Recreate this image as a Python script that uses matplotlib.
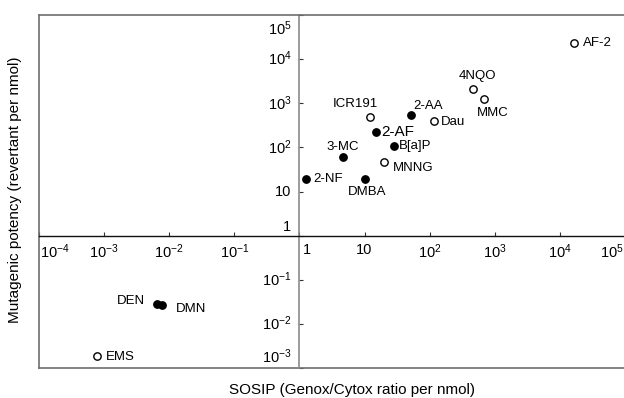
import matplotlib
matplotlib.use("Agg")
import matplotlib.pyplot as plt
from matplotlib.ticker import NullFormatter

plt.rcParams['font.family'] = ['Liberation Sans', 'DejaVu Sans']
plt.rcParams['mathtext.fontset'] = 'custom'
plt.rcParams['mathtext.rm'] = 'Liberation Sans'
plt.rcParams['mathtext.it'] = 'Liberation Sans'

# ---- data ----
names = ['2-NF', '3-MC', 'DMBA', 'ICR191', '2-AF', 'B[a]P', 'MNNG', '2-AA', 'Dau',
         '4NQO', 'MMC', 'AF-2', 'DEN', 'DMN', 'EMS']
sosip = [1.25, 4.6, 10, 12, 14.8, 28, 20, 51, 115, 460, 680, 16500, 0.0066, 0.0078, 0.00078]
potency = [19, 59, 19, 500, 219, 105, 46, 535, 390, 2100, 1240, 23000, 0.028, 0.027, 0.0019]
filled = [True, True, True, False, True, True, False, True, False,
          False, False, False, True, True, False]
# label offsets in pixels (dx, dy) and alignment
lab_off = [(8, 0, 'left'), (0, 10, 'center'), (3, -13, 'center'), (-14, 13, 'center'),
           (6, 0, 'left'), (5, 0, 'left'), (9, -6, 'left'), (3, 9, 'left'), (7, -1, 'left'),
           (5, 13, 'center'), (9, -14, 'center'), (9, 0, 'left'), (-12, 3, 'right'),
           (14, -4, 'left'), (9, -1, 'left')]

xticks = [1e-4, 1e-3, 1e-2, 1e-1, 1, 10, 1e2, 1e3, 1e4, 1e5]
xticklabels = ['10$^{-4}$', '10$^{-3}$', '10$^{-2}$', '10$^{-1}$', '1', '10',
               '10$^{2}$', '10$^{3}$', '10$^{4}$', '10$^{5}$']
yticks = [1e-3, 1e-2, 1e-1, 1, 10, 1e2, 1e3, 1e4, 1e5]
yticklabels = ['10$^{-3}$', '10$^{-2}$', '10$^{-1}$', '1', '10',
               '10$^{2}$', '10$^{3}$', '10$^{4}$', '10$^{5}$']

fig = plt.figure(figsize=(6.24, 3.98), dpi=100)
ax = fig.add_axes([39/624, 30/398, 586/624, 353/398])
ax.set_xscale('log')
ax.set_yscale('log')
ax.set_xlim(1e-4, 1e5)
ax.set_ylim(1e-3, 1e5)

frame_col = '#6e6e6e'
ax.spines['left'].set_position(('data', 1))
ax.spines['bottom'].set_position(('data', 1))
ax.spines['left'].set_color('#8a8a8a')
ax.spines['left'].set_linewidth(1.2)
ax.spines['bottom'].set_color('#111111')
ax.spines['bottom'].set_linewidth(1.0)
ax.spines['right'].set_visible(False)
ax.spines['top'].set_color(frame_col)
ax.spines['top'].set_linewidth(1.2)
# outer frame (left and bottom edges)
ax.plot([0, 0], [0, 1], transform=ax.transAxes, color=frame_col, lw=1.2, clip_on=False)
ax.plot([0, 1], [0, 0], transform=ax.transAxes, color=frame_col, lw=1.2, clip_on=False)

ax.xaxis.set_ticks_position('bottom')
ax.yaxis.set_ticks_position('left')
ax.set_xticks(xticks)
ax.set_yticks(yticks)
ax.minorticks_off()
ax.xaxis.set_major_formatter(NullFormatter())
ax.yaxis.set_major_formatter(NullFormatter())
ax.tick_params(axis='both', which='major', direction='in', length=3, width=0.8,
               color='#333333')

fs_tick = 10.5
for xv, lab in zip(xticks, xticklabels):
    ha, dx = 'center', 0
    if xv == 1e-4:
        ha, dx = 'left', 1
    elif xv == 1e5:
        ha, dx = 'right', -1
    elif xv == 1:
        ha, dx = 'left', 3
    ax.annotate(lab, (xv, 1), xytext=(dx, -7), textcoords='offset pixels',
                ha=ha, va='top', fontsize=fs_tick)
for yv, lab in zip(yticks, yticklabels):
    va, dy = 'center', 0
    if yv == 1e5:
        va, dy = 'top', -4
    elif yv == 1 or yv == 1e-3:
        va, dy = 'bottom', 2
    ax.annotate(lab, (1, yv), xytext=(-8, dy), textcoords='offset pixels',
                ha='right', va=va, fontsize=fs_tick)

for n, x, y, f, (dx, dy, ha) in zip(names, sosip, potency, filled, lab_off):
    ax.plot([x], [y], 'o', ms=5.3, mfc='black' if f else 'white', mec='black',
            mew=1.0, clip_on=False, zorder=3)
    ax.annotate(n, (x, y), xytext=(dx, dy), textcoords='offset pixels',
                ha=ha, va='center', fontsize=11 if n == '2-AF' else 9.5)

fig.text(352/624, 1 - 390/398, 'SOSIP (Genox/Cytox ratio per nmol)',
         ha='center', va='center', fontsize=11)
fig.text(15/624, 1 - 190/398, 'Mutagenic potency (revertant per nmol)',
         ha='center', va='center', rotation=90, fontsize=11)

fig.savefig('out.png', dpi=100)
